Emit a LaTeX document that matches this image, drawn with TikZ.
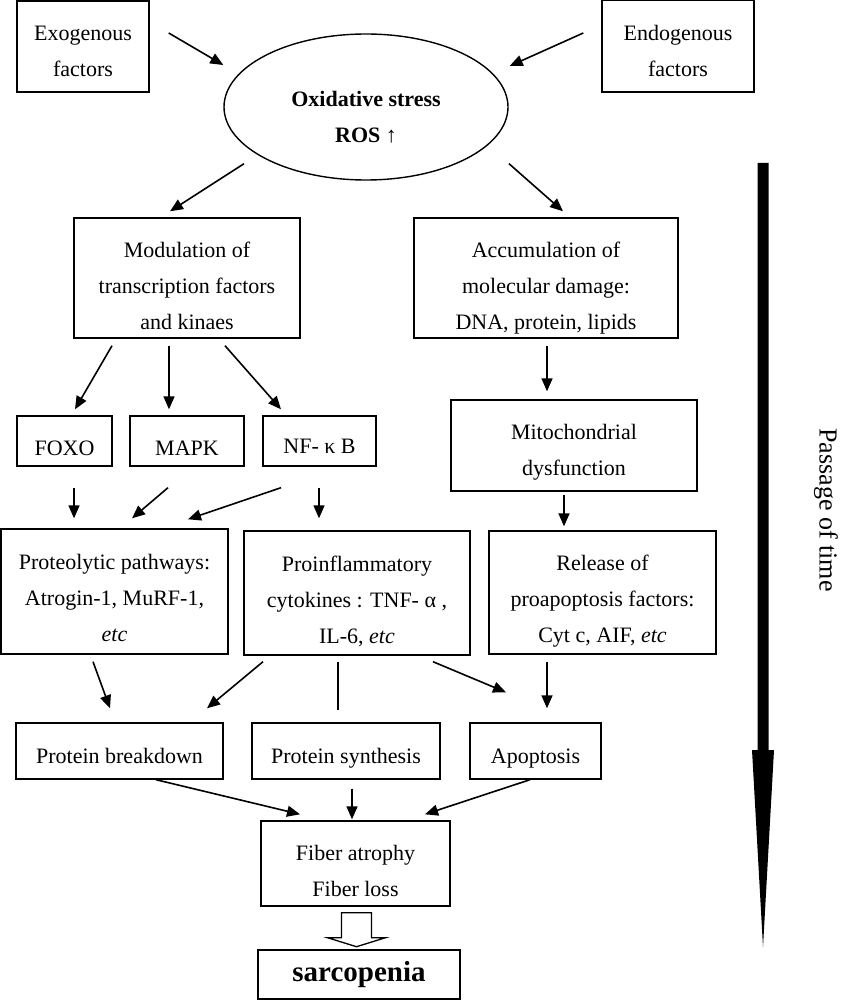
\documentclass[tikz,border=0pt]{standalone}
\usepackage{fontspec}
\setmainfont{Liberation Serif}
\usetikzlibrary{arrows.meta,calc,shapes.geometric}
\newcommand{\lowtext}[2][7pt]{\raisebox{-#1}[\height][\depth]{\begin{tabular}{@{}c@{}}#2\end{tabular}}}
\begin{document}
\begin{tikzpicture}[x=1pt,y=-1pt,
		box/.style={draw,line width=1.4pt,align=center,inner sep=0pt,font=\fontsize{22}{36}\selectfont},
		arr/.style={-{Triangle[length=13pt,width=11pt]},line width=1.6pt}]
			\useasboundingbox (0,0) rectangle (840,1000);
			\node[box,minimum width=132pt,minimum height=91pt] (exo) at (83,46.5) {\lowtext[5pt]{Exogenous\\factors}};
			\node[box,minimum width=152pt,minimum height=92pt] (endo) at (678,46) {\lowtext[5pt]{Endogenous\\factors}};
			\node[box,ellipse,minimum width=284pt,minimum height=146pt] (ox) at (366,107) {\lowtext[10pt]{\textbf{Oxidative stress}\\\textbf{ROS ↑}}};
			\node[box,minimum width=226pt,minimum height=120pt] (mod) at (187,278) {\lowtext[8pt]{Modulation of\\transcription factors\\and kinaes}};
			\node[box,minimum width=264pt,minimum height=120pt] (acc) at (546,278) {\lowtext[8pt]{Accumulation of\\molecular damage:\\DNA, protein, lipids}};
			\node[box,minimum width=95pt,minimum height=50pt] (foxo) at (64.5,441) {\lowtext{FOXO}};
			\node[box,minimum width=114pt,minimum height=50pt] (mapk) at (187,441) {\lowtext{MAPK}};
			\node[box,minimum width=113pt,minimum height=50pt] (nfkb) at (319.5,441) {\lowtext[5pt]{NF- κ B}};
			\node[box,minimum width=246pt,minimum height=91pt] (mito) at (574,445.5) {\lowtext[5pt]{Mitochondrial\\dysfunction}};
			\node[box,minimum width=227pt,minimum height=125pt] (prot) at (114.5,591.5) {\lowtext{Proteolytic pathways:\\Atrogin-1, MuRF-1,\\\textit{etc}}};
			\node[box,minimum width=226pt,minimum height=124pt] (infl) at (357,593) {\lowtext{Proinflammatory\\cytokines : TNF- α ,\\IL-6, \textit{etc}}};
			\node[box,minimum width=227pt,minimum height=123pt] (rel) at (602.5,592.5) {\lowtext{Release of\\proapoptosis factors:\\Cyt c, AIF, \textit{etc}}};
			\node[box,minimum width=207pt,minimum height=56pt] (brk) at (119.5,751) {\lowtext[5pt]{Protein breakdown}};
			\node[box,minimum width=188pt,minimum height=56pt] (syn) at (346,751) {\lowtext[5pt]{Protein synthesis}};
			\node[box,minimum width=131pt,minimum height=56pt] (apo) at (535.5,751) {\lowtext[5pt]{Apoptosis}};
			\node[box,minimum width=189pt,minimum height=85pt] (fib) at (355.5,863.5) {\lowtext[8pt]{Fiber atrophy\\Fiber loss}};
			\node[box,minimum width=202pt,minimum height=49pt,font=\fontsize{29}{36}\selectfont\bfseries] (sarc) at (359,974.5) {sarcopenia};
			\draw[arr] ($(exo.east)+(19,-13.5)$) -- ($(ox.west)+(0,-42)$);
			\draw[arr] ($(endo.west)+(-18,-13)$) -- ($(ox.east)+(1,-41)$);
			\draw[arr] ($(ox.south)+(-122,-17)$) -- ($(mod.north)+(-17,-6)$);
			\draw[arr] ($(ox.south)+(143,-17)$) -- ($(acc.north)+(17,-6)$);
			\draw[arr] ($(mod.south)+(-75,7)$) -- ($(foxo.north)+(10.5,-6)$);
			\draw[arr] ($(mod.south)+(-18,7)$) -- ($(mapk.north)+(-18,-6)$);
			\draw[arr] ($(mod.south)+(38,7)$) -- ($(nfkb.north)+(-38.5,-6)$);
			\draw[arr] ($(acc.south)+(1,7)$) -- ($(mito.north)+(-27,-8)$);
			\draw[arr] ($(foxo.south)+(9.5,21)$) -- ($(prot.north)+(-40.5,-10)$);
			\draw[arr] ($(mapk.south)+(-19,21)$) -- ($(prot.north)+(17.5,-10)$);
			\draw[arr] ($(nfkb.south)+(-38.5,21)$) -- ($(prot.north)+(73.5,-9)$);
			\draw[arr] ($(nfkb.south)+(-0.5,21)$) -- ($(infl.north)+(-38,-12)$);
			\draw[arr] ($(mito.south)+(-10,3)$) -- ($(rel.north)+(-38.5,-4)$);
			\draw[arr] ($(prot.south)+(-21.5,7)$) -- ($(brk.north)+(-9.5,-14)$);
			\draw[arr] ($(infl.south)+(-94,6)$) -- ($(brk.north)+(87.5,-14)$);
			\draw[line width=1.6pt] ($(infl.south)+(-19,6)$) -- ($(syn.north)+(-8,-12)$);
			\draw[arr] ($(infl.south)+(76,6)$) -- ($(apo.north)+(-29.5,-30)$);
			\draw[arr] ($(rel.south)+(-55.5,7)$) -- ($(apo.north)+(11.5,-14)$);
			\draw[arr] ($(brk.south)+(36.5,0)$) -- ($(fib.north)+(-55.5,-6)$);
			\draw[arr] ($(syn.south)+(6,9)$) -- ($(fib.north)+(-3.5,-1)$);
			\draw[arr] ($(apo.south)+(-5.5,0)$) -- ($(fib.north)+(69.5,-6)$);
			\draw[line width=1.3pt] ($(fib.south)+(-14,6)$) -- ++(30,0) -- ++(0,25) -- ++(14,0) -- ++(-29,9) -- ++(-29,-9) -- ++(14,0) -- cycle;
			\fill (757.5,163) -- (768.5,163) -- (768.5,750) -- (774,750) -- (763,947) -- (752,750) -- (757.5,750) -- cycle;
			\node[rotate=-90,font=\fontsize{26}{30}\selectfont] (time) at (826,510) {Passage of time};
		\end{tikzpicture}
\end{document}
